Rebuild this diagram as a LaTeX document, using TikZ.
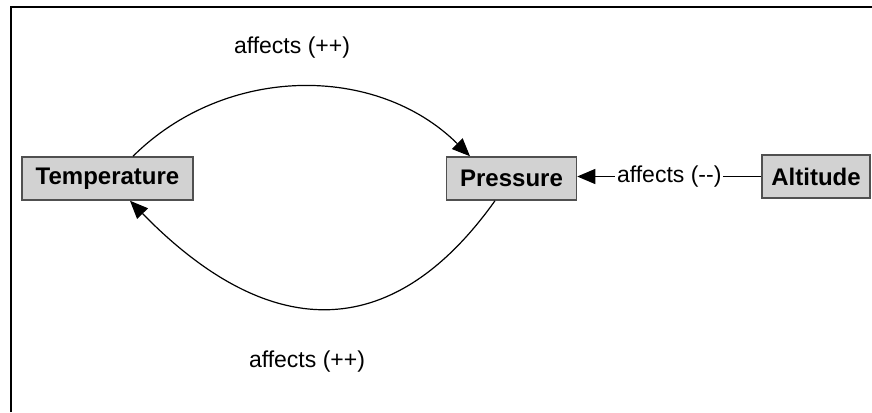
\documentclass[tikz,border=0pt]{standalone}
\usepackage{fontspec}
\newfontfamily\lsans{Liberation Sans}
\usetikzlibrary{arrows.meta,calc}
\definecolor{boxfill}{HTML}{D2D2D2}
\definecolor{boxdraw}{HTML}{505050}
\tikzset{
  concept/.style={draw=boxdraw, fill=boxfill, line width=1.5pt, inner sep=0pt,
    font=\lsans\bfseries\fontsize{24}{27}\selectfont, anchor=center},
  conn/.style={line width=1.2pt, draw=black, -{Triangle[length=18pt,width=15pt]}},
  lbl/.style={font=\lsans\fontsize{23}{26}\selectfont, inner sep=2pt, fill=white},
}
\begin{document}
\begin{tikzpicture}[x=1pt,y=-1pt]
\useasboundingbox (0,0) rectangle (872,412);
\fill[white] (0,0) rectangle (872,412);
\draw[line width=2pt] (11,412) -- (11,7.5) -- (872,7.5);

\node[concept, minimum width=171pt, minimum height=43pt] (temp) at (107.5,178.5) {Temperature};
\node[concept, minimum width=130pt, minimum height=43pt] (pres) at (511.5,178.5) {Pressure};
\node[concept, minimum width=108pt, minimum height=43pt] (alt) at (816,176.5) {Altitude};

% top curve Temperature -> Pressure
\draw[conn] ([xshift=25.5pt]temp.north) .. controls (226,64) and (377,64) .. ([xshift=-41.5pt]pres.north);
\node[lbl, fill=none] (ltop) at (292,48) {affects (++)};

% bottom curve Pressure -> Temperature
\draw[conn] ([xshift=-16.5pt]pres.south) .. controls (390,348) and (266,340) .. ([xshift=22.5pt]temp.south);
\node[lbl, fill=none] (lbot) at (307,362) {affects (++)};

% Altitude -> Pressure
\draw[conn] (alt.west) -- (alt.west -| pres.east)
  node[lbl, midway] (lmid) {affects (--)};
\end{tikzpicture}
\end{document}
